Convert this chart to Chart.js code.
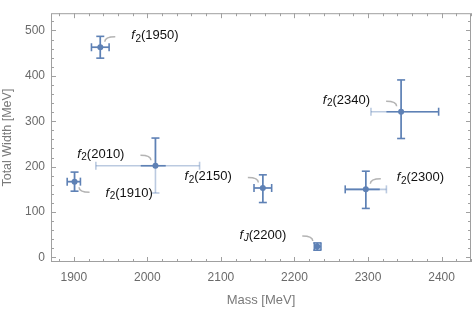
<!DOCTYPE html>
<html>
<head>
<meta charset="utf-8">
<script src="https://cdn.jsdelivr.net/npm/chart.js@4/dist/chart.umd.min.js"></script>
<style>
  html, body { margin: 0; padding: 0; background: #fff; }
  #wrap { width: 475px; height: 309px; }
</style>
</head>
<body>
<div id="wrap"><canvas id="massWidthChart"></canvas></div>
<script>
// resonances: mass and total width in MeV
const names = ['f2(1950)', 'f2(2340)', 'f2(2010)', 'f2(1910)', 'f2(2150)', 'f2(2300)', 'fJ(2200)'];
const mass = [1936, 2345, 2011, 1901, 2157, 2297, 2231];
const width = [463, 321, 202, 167, 153, 150, 24];

// full error intervals (drawn light where not covered by the inner ones)
const massLo = [1924, 2304, 1930, 1891, 2145, 2269, 2227];
const massHi = [1948, 2396, 2071, 1909, 2169, 2325, 2236];
const widthLo = [439, 262, 142, 146, 121, 108, 16];
const widthHi = [487, 391, 263, 188, 182, 190, 32];

// inner error intervals (dark)
const massLoIn = [1924, 2325, 1991, 1891, 2145, 2269, 2227];
const massHiIn = [1948, 2396, 2025, 1909, 2169, 2316, 2236];
const widthLoIn = [439, 262, 202, 146, 121, 108, 16];
const widthHiIn = [487, 391, 263, 188, 182, 190, 32];

const xTicks = [1900, 2000, 2100, 2200, 2300, 2400];
const yTicks = [0, 100, 200, 300, 400, 500];

// which side each label sits on: [horizontal, vertical]
const labelDir = [[1, -1], [-1, -1], [-1, -1], [1, 1], [-1, -1], [1, -1], [-1, -1]];

const dark = '#5e81b5';
const light = 'rgba(94, 129, 181, 0.42)';
const frameColor = '#a0a0a0';
const fontFamily = '"Liberation Sans", Arial, sans-serif';

const errorBars = {
  id: 'errorBars',
  beforeDatasetsDraw(chart) {
    const { ctx, scales: { x, y } } = chart;
    ctx.save();
    ctx.lineWidth = 1.6;
    const seg = (x1, y1, x2, y2, color) => {
      ctx.strokeStyle = color;
      ctx.beginPath();
      ctx.moveTo(x1, y1);
      ctx.lineTo(x2, y2);
      ctx.stroke();
    };
    const cap = 4;
    mass.forEach((m, i) => {
      const px = x.getPixelForValue(m);
      const py = y.getPixelForValue(width[i]);
      // horizontal
      const xl = x.getPixelForValue(massLo[i]);
      const xh = x.getPixelForValue(massHi[i]);
      const xli = x.getPixelForValue(massLoIn[i]);
      const xhi = x.getPixelForValue(massHiIn[i]);
      seg(xl, py, xh, py, light);
      seg(xli, py, xhi, py, dark);
      seg(xl, py - cap, xl, py + cap, massLoIn[i] === massLo[i] ? dark : light);
      seg(xh, py - cap, xh, py + cap, massHiIn[i] === massHi[i] ? dark : light);
      // vertical
      const yl = y.getPixelForValue(widthLo[i]);
      const yh = y.getPixelForValue(widthHi[i]);
      const yli = y.getPixelForValue(widthLoIn[i]);
      const yhi = y.getPixelForValue(widthHiIn[i]);
      seg(px, yl, px, yh, light);
      seg(px, yli, px, yhi, dark);
      seg(px - cap, yl, px + cap, yl, widthLoIn[i] === widthLo[i] ? dark : light);
      seg(px - cap, yh, px + cap, yh, widthHiIn[i] === widthHi[i] ? dark : light);
    });
    ctx.restore();
  }
};

const frameAndLabels = {
  id: 'frameAndLabels',
  afterDraw(chart) {
    const { ctx, chartArea: a, scales: { x, y } } = chart;
    ctx.save();
    ctx.strokeStyle = frameColor;
    ctx.lineWidth = 1;
    ctx.strokeRect(a.left + 0.5, a.top + 0.5, a.right - a.left - 1, a.bottom - a.top - 1);

    // inward ticks on all four sides, minor every fifth of a major step
    ctx.beginPath();
    const xStep = (xTicks[1] - xTicks[0]) / 5;
    for (let v = xTicks[0] - 5 * xStep; v <= x.max; v += xStep) {
      if (v < x.min) continue;
      const major = xTicks.includes(Math.round(v));
      const len = major ? 5 : 3;
      const px = Math.round(x.getPixelForValue(v)) + 0.5;
      ctx.moveTo(px, a.bottom);
      ctx.lineTo(px, a.bottom - len);
      ctx.moveTo(px, a.top);
      ctx.lineTo(px, a.top + len);
    }
    const yStep = (yTicks[1] - yTicks[0]) / 5;
    for (let v = yTicks[0] - 5 * yStep; v <= y.max; v += yStep) {
      if (v < y.min) continue;
      const major = yTicks.includes(Math.round(v));
      const len = major ? 5 : 3;
      const py = Math.round(y.getPixelForValue(v)) + 0.5;
      ctx.moveTo(a.left, py);
      ctx.lineTo(a.left + len, py);
      ctx.moveTo(a.right, py);
      ctx.lineTo(a.right - len, py);
    }
    ctx.stroke();

    // labels with short curved leaders
    names.forEach((name, i) => {
      const px = x.getPixelForValue(mass[i]);
      const py = y.getPixelForValue(width[i]);
      const [sx, sy] = labelDir[i];
      ctx.strokeStyle = '#b4b4b4';
      ctx.lineWidth = 1.5;
      const nx = px + sx * 4.5, ny = py + sy * 5.5;
      const fx = px + sx * 15, fy = py + sy * 10.5;
      ctx.beginPath();
      ctx.moveTo(nx, ny);
      ctx.quadraticCurveTo(nx, fy, fx, fy);
      ctx.stroke();

      const [, sub, rest] = name.match(/^f(\w)(\(.*\))$/);
      const fFont = 'italic 13px ' + fontFamily;
      const subFont = (sub === 'J' ? 'italic ' : '') + '10px ' + fontFamily;
      const restFont = '13px ' + fontFamily;
      ctx.font = fFont; const wF = ctx.measureText('f').width;
      ctx.font = subFont; const wS = ctx.measureText(sub).width;
      ctx.font = restFont; const wR = ctx.measureText(rest).width;
      const total = wF + wS + wR + 0.5;
      let tx = sx > 0 ? px + 31 : px - 31 - total;
      const ty = py + sy * 11.5;
      ctx.fillStyle = '#111';
      ctx.textBaseline = 'middle';
      ctx.textAlign = 'left';
      ctx.font = fFont; ctx.fillText('f', tx, ty); tx += wF + 0.5;
      ctx.font = subFont; ctx.fillText(sub, tx, ty + 3.5); tx += wS;
      ctx.font = restFont; ctx.fillText(rest, tx, ty);
    });
    ctx.restore();
  }
};

new Chart(document.getElementById('massWidthChart'), {
  type: 'scatter',
  data: {
    datasets: [{
      data: mass.map((m, i) => ({ x: m, y: width[i] })),
      backgroundColor: dark,
      borderWidth: 0,
      pointRadius: 3,
    }],
  },
  options: {
    responsive: true,
    maintainAspectRatio: false,
    animation: false,
    layout: { padding: { top: 1, right: 1, left: 0, bottom: 0 } },
    plugins: { legend: { display: false }, tooltip: { enabled: false } },
    scales: {
      x: {
        type: 'linear',
        min: 1869,
        max: 2440,
        afterBuildTicks: (s) => { s.ticks = xTicks.map((v) => ({ value: v })); },
        afterFit: (s) => { s.height = 47; },
        grid: { display: false, drawTicks: false },
        border: { display: false },
        ticks: {
          autoSkip: false, maxRotation: 0, padding: 8, color: '#6a6a6a',
          font: { family: fontFamily, size: 12 },
          callback: (v) => String(v),
        },
        title: {
          display: true, text: 'Mass [MeV]', color: '#7a7a7a',
          font: { family: fontFamily, size: 13 }, padding: { top: 0, bottom: 1 },
        },
      },
      y: {
        type: 'linear',
        min: -10,
        max: 538,
        afterBuildTicks: (s) => { s.ticks = yTicks.map((v) => ({ value: v })); },
        afterFit: (s) => { s.width = 51; },
        grid: { display: false, drawTicks: false },
        border: { display: false },
        ticks: {
          autoSkip: false, padding: 6, color: '#6a6a6a',
          font: { family: fontFamily, size: 12 },
          callback: (v) => String(v),
        },
        title: {
          display: true, text: 'Total Width [MeV]', color: '#7a7a7a',
          font: { family: fontFamily, size: 12.5 }, padding: { top: 0, bottom: 0 },
        },
      },
    },
  },
  plugins: [errorBars, frameAndLabels],
});
</script>
</body>
</html>
